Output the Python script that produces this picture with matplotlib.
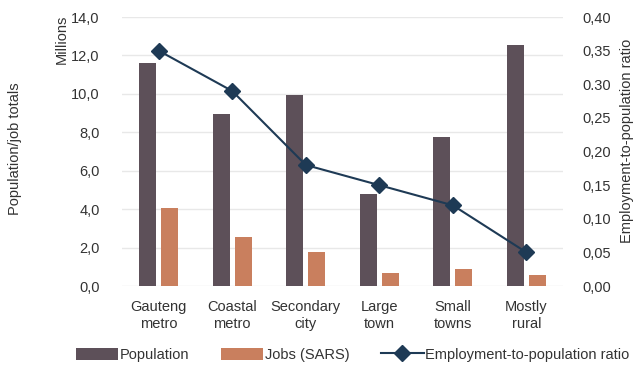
import numpy as np
import matplotlib.pyplot as plt
from matplotlib.ticker import FuncFormatter

plt.rcParams['font.family'] = ['Liberation Sans', 'DejaVu Sans']

categories = ['Gauteng\nmetro', 'Coastal\nmetro', 'Secondary\ncity', 'Large\ntown', 'Small\ntowns', 'Mostly\nrural']
population = [11.6, 8.96, 9.95, 4.79, 7.76, 12.55]
jobs = [4.05, 2.55, 1.77, 0.68, 0.89, 0.57]
ratio = [0.35, 0.29, 0.18, 0.15, 0.12, 0.05]

c_pop = '#5D5059'
c_jobs = '#C97F5E'
c_line = '#1E3A55'
txt = '#333333'

fig = plt.figure(figsize=(6.35, 3.71), dpi=100)
ax = fig.add_axes([0.192, 0.229, 0.695, 0.725])
ax2 = ax.twinx()

x = np.arange(len(categories))
w = 0.23
b1 = ax.bar(x - 0.15, population, w, color=c_pop, label='Population', zorder=2)
b2 = ax.bar(x + 0.15, jobs, w, color=c_jobs, label='Jobs (SARS)', zorder=2)
l1, = ax2.plot(x, ratio, color=c_line, lw=1.5, marker='D', ms=8, label='Employment-to-population ratio')

ax.set_xlim(-0.5, 5.5)
ax.set_ylim(0, 14)
ax.set_yticks(np.arange(0, 14.1, 2))
ax.yaxis.set_major_formatter(FuncFormatter(lambda v, p: f'{v:.1f}'.replace('.', ',')))
ax2.set_ylim(0, 0.4)
ax2.set_yticks(np.arange(0, 0.401, 0.05))
rlabels = [f'{v:.2f}'.replace('.', ',') for v in np.arange(0, 0.401, 0.05)]
rlabels[6] = '0.30'
ax2.set_yticklabels(rlabels)

ax.grid(axis='y', color='#E8E8E8', lw=1, zorder=0)
ax.set_axisbelow(True)
for a in (ax, ax2):
    for s in a.spines.values():
        s.set_visible(False)
    a.tick_params(length=0, labelsize=10.5, colors=txt)
ax.tick_params(axis='y', pad=16)
ax2.tick_params(axis='y', pad=14)
ax.tick_params(axis='x', pad=10)
ax.set_xticks(x)
ax.set_xticklabels(categories, fontsize=10.5, color=txt, linespacing=1.3)

fig.text(0.024, 0.6, 'Population/job totals', rotation=90, ha='center', va='center', fontsize=10.5, color=txt)
fig.text(0.097, 0.895, 'Millions', rotation=90, ha='center', va='center', fontsize=10.5, color=txt)
fig.text(0.987, 0.62, 'Employment-to-population ratio', rotation=90, ha='center', va='center', fontsize=10.5, color=txt)

fig.legend(handles=[b1, b2, l1], loc='lower center', bbox_to_anchor=(0.555, -0.01), ncol=3, frameon=False,
           fontsize=10.5, handlelength=2.9, handleheight=0.9, handletextpad=0.1, columnspacing=2.2,
           labelcolor=txt)

fig.savefig('out.png', dpi=100)
